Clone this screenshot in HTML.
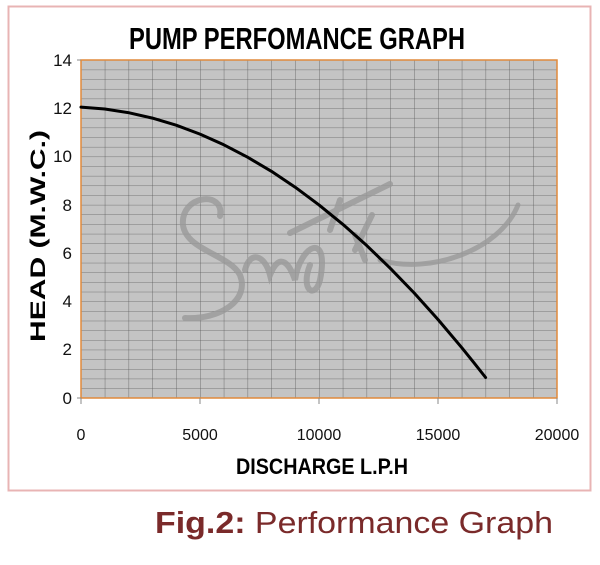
<!DOCTYPE html>
<html><head><meta charset="utf-8"><style>
body{margin:0;background:#fff;width:600px;height:565px;overflow:hidden}
svg{display:block}
</style></head><body>
<svg width="600" height="565" viewBox="0 0 600 565" font-family="Liberation Sans, sans-serif">
<defs>
<pattern id="g" patternUnits="userSpaceOnUse" x="81" y="60" width="23.8" height="9.657">
<rect width="23.8" height="9.657" fill="#c4c4c4"/>
<line x1="0" y1="0" x2="23.8" y2="0" stroke="#5a5a5a" stroke-width="0.8"/>
<line x1="0" y1="0" x2="0" y2="9.657" stroke="#5a5a5a" stroke-width="0.8"/>
</pattern>
</defs>
<rect x="8.5" y="6.5" width="582" height="484" fill="#fff" stroke="#e8b4b4" stroke-width="2"/>
<text x="297" y="49" text-anchor="middle" font-size="31" font-weight="bold" textLength="336" lengthAdjust="spacingAndGlyphs">PUMP PERFOMANCE GRAPH</text>
<rect x="81" y="60" width="476" height="338" fill="url(#g)"/>
<rect x="81" y="60" width="476" height="338" fill="none" stroke="#e08a3c" stroke-width="1.5"/>
<g stroke="#9a9a9a" stroke-width="6" fill="none" stroke-linecap="round" opacity="0.8">
<path d="M220 216 C225 190 180 195 183 225 C186 250 230 255 240 275 C250 300 220 320 185 318"/>
<path d="M245 270 C250 250 265 255 270 275 C280 250 290 265 295 280 C300 245 330 230 320 280 C315 300 300 290 310 265"/>
<path d="M290 233 L390 184"/>
<path d="M330 230 L340 200 M355 250 L372 215 M355 235 L365 260"/>
<path d="M380 260 C430 275 500 250 518 205" stroke-width="5"/>
</g>
<path d="M81 107.1 L104.8 109 L128.6 112.7 L152.4 118.1 L176.2 125.2 L200 134.1 L223.8 144.8 L247.6 157.2 L271.4 171.3 L295.2 187.2 L319 204.9 L342.8 224.3 L366.6 245.4 L390.4 268.4 L414.2 293 L438 319.5 L461.8 347.7 L473.7 362.4 L485.6 377.5" fill="none" stroke="#000" stroke-width="3" stroke-linejoin="round" stroke-linecap="round"/>
<g font-size="17" text-anchor="end" fill="#111">
<text x="72" y="66">14</text><text x="72" y="114">12</text><text x="72" y="162">10</text>
<text x="72" y="211">8</text><text x="72" y="259">6</text><text x="72" y="307">4</text>
<text x="72" y="355">2</text><text x="72" y="404">0</text>
</g>
<g stroke="#888" stroke-width="1">
<line x1="77" y1="60" x2="81" y2="60"/><line x1="77" y1="398" x2="81" y2="398"/>
<line x1="81" y1="398" x2="81" y2="404"/><line x1="200" y1="398" x2="200" y2="404"/><line x1="319" y1="398" x2="319" y2="404"/><line x1="438" y1="398" x2="438" y2="404"/><line x1="557" y1="398" x2="557" y2="404"/>
</g>
<g font-size="16" text-anchor="middle" fill="#111">
<text x="81" y="440">0</text><text x="200" y="440">5000</text><text x="319" y="440">10000</text>
<text x="438" y="440">15000</text><text x="557" y="440">20000</text>
</g>
<text x="322" y="474" text-anchor="middle" font-size="22" font-weight="bold" textLength="172" lengthAdjust="spacingAndGlyphs">DISCHARGE L.P.H</text>
<text transform="translate(45 236) rotate(-90)" text-anchor="middle" font-size="21" font-weight="bold" textLength="212" lengthAdjust="spacingAndGlyphs">HEAD (M.W.C.)</text>
<text x="155" y="533" font-size="31" fill="#7a2a2a" textLength="398" lengthAdjust="spacingAndGlyphs"><tspan font-weight="bold">Fig.2:</tspan> Performance Graph</text>
</svg>
</body></html>
